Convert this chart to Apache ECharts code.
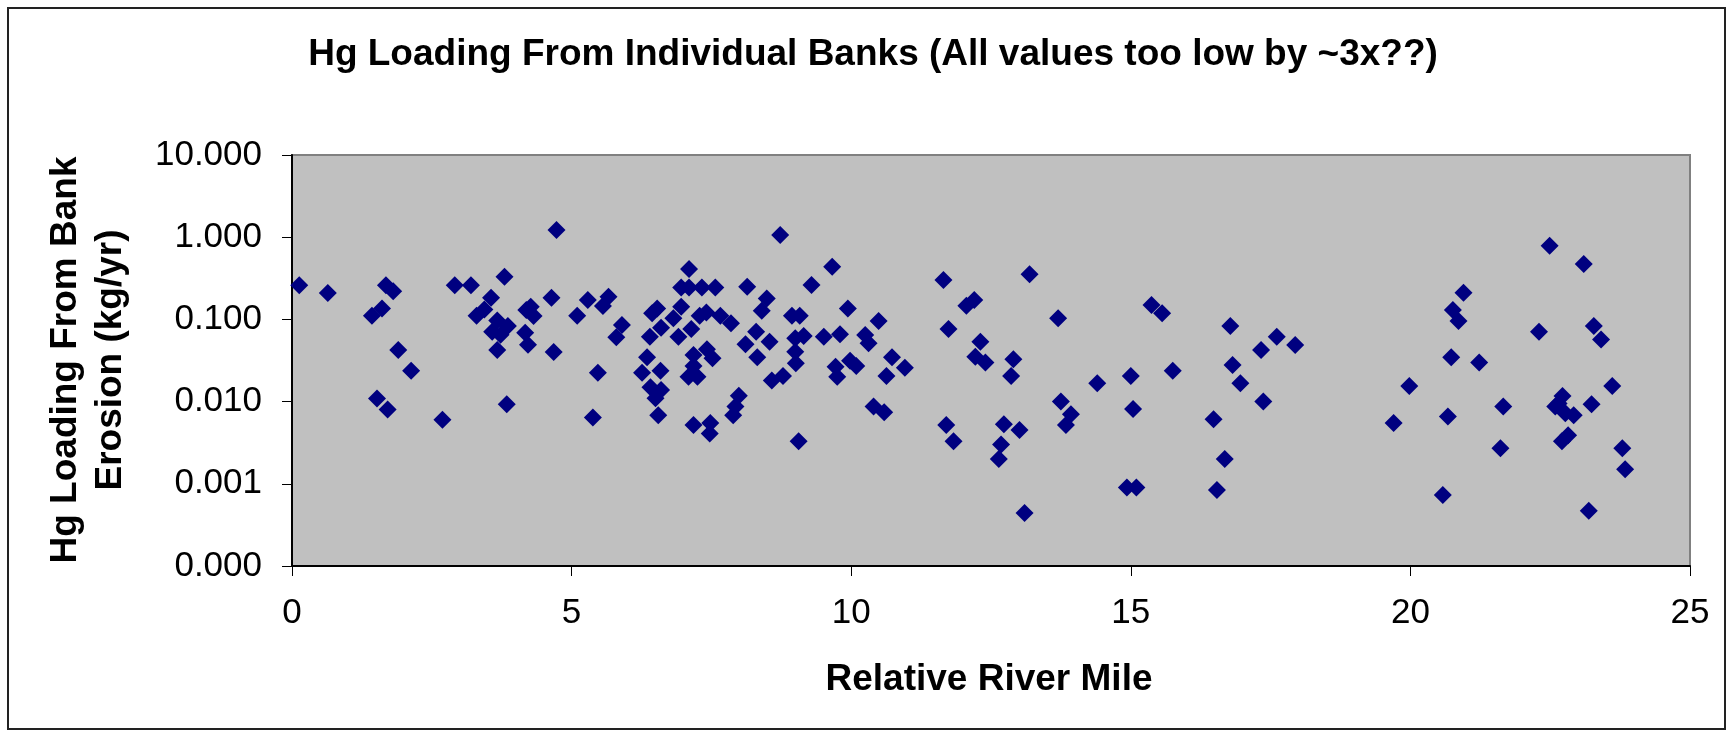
<!DOCTYPE html>
<html>
<head>
<meta charset="utf-8">
<script src="https://cdn.jsdelivr.net/npm/echarts@6/dist/echarts.min.js"></script>
<style>
html,body{margin:0;padding:0;background:#fff;}
#chart{width:1733px;height:736px;}
</style>
</head>
<body>
<div id="chart"></div>
<script>
const chartTitle = 'Hg Loading From Individual Banks (All values too low by ~3x??)';
const xAxisTitle = 'Relative River Mile';
const yAxisTitle = 'Hg Loading From Bank\nErosion (kg/yr)';

// Relative river mile of each bank
const riverMile = [
  0.13, 0.64, 1.68, 1.81, 1.61, 1.43, 1.90, 2.13, 1.52, 1.71, 2.69, 2.91, 3.20, 3.80, 3.56, 3.30, 3.44, 3.67, 3.86, 3.58, 3.73, 3.67, 3.84,
  4.73, 4.64, 4.19, 4.32, 4.27, 4.17, 4.22, 4.68, 5.29, 5.10, 5.66, 5.56, 5.90, 5.80, 5.47, 5.38, 7.10, 6.96, 7.10, 7.33, 7.57, 8.14,
  6.53, 6.44, 6.96, 6.82, 6.60, 6.40, 6.91, 7.14, 7.29, 7.41, 7.66, 7.85, 8.11, 6.35, 6.26, 6.59, 6.41, 6.60, 6.50, 6.55, 7.18, 7.42,
  7.52, 7.18, 7.09, 7.25, 7.99, 7.93, 7.89, 7.18, 7.48, 7.47,
  8.73, 8.49, 8.40, 8.30, 8.54, 8.32, 9.29, 9.66, 9.94, 8.94, 9.08, 9.00, 9.15, 9.00, 9.01, 8.58, 8.78, 9.06, 9.51, 9.80, 9.72, 9.75,
  9.98, 10.09, 10.49, 10.25, 10.31, 10.73, 10.96, 10.63, 10.40, 10.59, 11.65, 12.06, 12.20, 11.74, 11.70, 11.83,
  13.19, 13.70, 12.31, 12.22, 12.40, 12.90, 12.86, 12.73, 13.01, 12.68, 12.64, 13.10, 14.40, 13.75, 13.93, 13.84, 15.00, 15.04, 14.93,
  15.10, 15.37, 15.56, 15.75,
  16.78, 16.82, 16.96, 16.48, 16.68, 16.54, 17.33, 17.61, 17.94, 17.37, 19.98, 19.70,
  20.95, 20.76, 20.86, 20.73, 21.23, 20.67, 20.58, 21.66, 21.61, 22.49, 23.10, 22.30, 23.28, 23.41, 23.61, 22.72, 22.59, 22.77, 22.92,
  23.24, 22.82, 22.71, 23.79, 23.84, 23.19, 22.65
];

// Hg loading from bank erosion (kg/yr)
const hgLoading = [
  0.26, 0.21, 0.26, 0.22, 0.136, 0.111, 0.0425, 0.0238, 0.0109, 0.0080, 0.0060, 0.26, 0.26, 0.33, 0.184, 0.111, 0.132, 0.097, 0.083, 0.071, 0.065, 0.0425, 0.0093,
  1.22, 0.184, 0.130, 0.110, 0.143, 0.069, 0.049, 0.040, 0.172, 0.111, 0.189, 0.146, 0.0855, 0.0605, 0.0225, 0.0064, 0.41, 0.245, 0.245, 0.245, 0.245, 0.25,
  0.136, 0.119, 0.143, 0.103, 0.079, 0.0617, 0.0617, 0.0765, 0.111, 0.121, 0.111, 0.0895, 0.0498, 0.0346, 0.0225, 0.0238, 0.0149, 0.0138, 0.011, 0.0068, 0.0369, 0.0433,
  0.0336, 0.0271, 0.0201, 0.0201, 0.0118, 0.0087, 0.0068, 0.0052, 0.0055, 0.0041,
  1.06, 0.18, 0.127, 0.071, 0.0536, 0.0346, 0.262, 0.437, 0.136, 0.111, 0.111, 0.0589, 0.0628, 0.0404, 0.0292, 0.018, 0.0205, 0.0033, 0.0617, 0.0658, 0.0266, 0.0201,
  0.0315, 0.0271, 0.0957, 0.0646, 0.0512, 0.0346, 0.0259, 0.0205, 0.0087, 0.0074, 0.301, 0.147, 0.172, 0.0764, 0.0052, 0.0033,
  0.353, 0.103, 0.0536, 0.0352, 0.0298, 0.0327, 0.0205, 0.0053, 0.0045, 0.0030, 0.0020, 0.00044, 0.0167, 0.010, 0.0070, 0.0052, 0.0205, 0.0081, 0.0009,
  0.0009, 0.15, 0.119, 0.0238,
  0.0832, 0.0279, 0.0167, 0.0061, 0.0020, 0.00084, 0.0425, 0.0617, 0.0489, 0.010, 0.0155, 0.0055,
  0.211, 0.13, 0.0957, 0.0346, 0.0298, 0.0066, 0.00073, 0.0087, 0.0027, 0.789, 0.472, 0.071, 0.0832, 0.0571, 0.0155, 0.0117, 0.0087, 0.0072, 0.0068,
  0.0093, 0.0039, 0.0033, 0.0027, 0.0015, 0.00047, 0.0095
];

const xTicks = [0, 5, 10, 15, 20, 25];
const yTicks = [0.0001, 0.001, 0.01, 0.1, 1, 10];

const points = riverMile.map((x, i) => [x, hgLoading[i]]);
const FONT = 'Liberation Sans, Arial, sans-serif';

const chart = echarts.init(document.getElementById('chart'), null, {renderer: 'canvas'});
chart.setOption({
  animation: false,
  backgroundColor: '#ffffff',
  grid: {
    left: 292, right: 43, top: 155, bottom: 170,
    show: true,
    backgroundColor: '#C0C0C0',
    borderColor: '#808080',
    borderWidth: 2
  },
  xAxis: {
    type: 'value',
    min: xTicks[0],
    max: xTicks[xTicks.length - 1],
    interval: xTicks[1] - xTicks[0],
    axisLine: {show: true, onZero: false, lineStyle: {color: '#000', width: 2}},
    axisTick: {show: true, inside: false, length: 10, lineStyle: {color: '#000', width: 1}},
    axisLabel: {margin: 30, fontSize: 35, color: '#000', fontFamily: FONT},
    splitLine: {show: false}
  },
  yAxis: {
    type: 'log',
    logBase: 10,
    min: yTicks[0],
    max: yTicks[yTicks.length - 1],
    axisLine: {show: true, onZero: false, lineStyle: {color: '#000', width: 2}},
    axisTick: {show: true, inside: false, length: 10, lineStyle: {color: '#000', width: 1}},
    axisLabel: {
      margin: 30, fontSize: 35, color: '#000', fontFamily: FONT,
      formatter: v => Number(v).toFixed(3)
    },
    splitLine: {show: false}
  },
  series: [{
    type: 'scatter',
    data: points,
    symbol: 'diamond',
    symbolSize: 18,
    itemStyle: {color: '#000080', opacity: 1}
  }],
  graphic: [
    {
      type: 'rect',
      shape: {x: 8, y: 8, width: 1717, height: 721},
      style: {fill: 'none', stroke: '#222', lineWidth: 2},
      silent: true
    },
    {
      type: 'text',
      x: 873, y: 55,
      style: {
        text: chartTitle,
        fontSize: 37, fontWeight: 'bold', fontFamily: FONT, fill: '#000',
        textAlign: 'center', textVerticalAlign: 'middle'
      }
    },
    {
      type: 'text',
      x: 989, y: 680,
      style: {
        text: xAxisTitle,
        fontSize: 37, fontWeight: 'bold', fontFamily: FONT, fill: '#000',
        textAlign: 'center', textVerticalAlign: 'middle'
      }
    },
    {
      type: 'text',
      x: 88, y: 360,
      rotation: Math.PI / 2,
      style: {
        text: yAxisTitle,
        fontSize: 37, fontWeight: 'bold', fontFamily: FONT, fill: '#000',
        lineHeight: 45,
        textAlign: 'center', textVerticalAlign: 'middle'
      }
    }
  ]
});
</script>
</body>
</html>
